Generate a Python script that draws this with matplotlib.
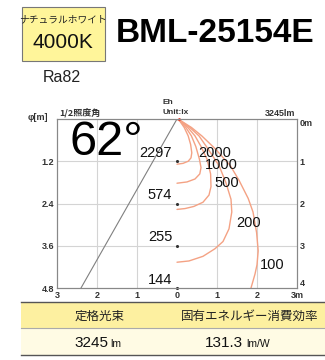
import matplotlib
matplotlib.use("Agg")
import matplotlib.pyplot as plt
from matplotlib.patches import Rectangle

plt.rcParams['font.family'] = ['Liberation Sans', 'Noto Sans CJK JP', 'DejaVu Sans']
JP = ['Noto Sans CJK JP', 'DejaVu Sans']

# --- data ---
model = "BML-25154E"
color_name = "ナチュラルホワイト"
color_temp = "4000K"
ra = "Ra82"
lumen = 3245
efficiency = 131.3
half_angle = 62  # 1/2照度角

depths = [1, 2, 3, 4]               # m
diam_labels = ["1.2", "2.4", "3.6", "4.8"]
center_lux = [2297, 574, 255, 144]
x_ticks = [-3, -2, -1, 0, 1, 2, 3]
x_labels = ["3", "2", "1", "0", "1", "2", "3m"]
r_ticks = [0, 1, 2, 3, 4]
r_labels = ["0m", "1", "2", "3", "4"]

# isolux curves (x [m], depth [m])
iso_levels = [2000, 1000, 500, 200, 100]
iso_x = [
    [0, 0.07, 0.18, 0.28, 0.34, 0.37, 0.35, 0.28, 0.15, 0],
    [0, 0.08, 0.22, 0.36, 0.47, 0.56, 0.6, 0.57, 0.45, 0.25, 0],
    [0, 0.09, 0.27, 0.45, 0.6, 0.75, 0.84, 0.85, 0.8, 0.65, 0.42, 0.2, 0],
    [0, 0.1, 0.32, 0.55, 0.77, 1.05, 1.22, 1.35, 1.37, 1.3, 1.15, 0.95, 0.65, 0.3, 0],
    [0, 0.11, 0.36, 0.62, 0.95, 1.33, 1.55, 1.78, 1.9, 1.99, 2.03, 2.0, 1.95, 1.85],
]
iso_d = [
    [0, 0.05, 0.2, 0.4, 0.6, 0.8, 0.92, 1.0, 1.05, 1.07],
    [0, 0.05, 0.2, 0.4, 0.65, 0.95, 1.15, 1.3, 1.42, 1.49, 1.52],
    [0, 0.05, 0.2, 0.4, 0.65, 0.95, 1.3, 1.6, 1.8, 1.97, 2.07, 2.12, 2.14],
    [0, 0.05, 0.2, 0.4, 0.7, 1.1, 1.5, 1.9, 2.2, 2.6, 2.9, 3.07, 3.25, 3.36, 3.39],
    [0, 0.05, 0.2, 0.4, 0.7, 1.1, 1.45, 1.88, 2.2, 2.69, 3.12, 3.45, 3.67, 4.0],
]
iso_label_pos = [(0.95, 0.8), (1.1, 1.1), (1.25, 1.52), (1.78, 2.45), (2.38, 3.45)]
beam_end = (-2.4, 4.0)

fig = plt.figure(figsize=(3.25, 3.6), dpi=100)

# --- header ---
fig.patches.append(Rectangle((22/325, 1-61/360), 83/325, 54/360, transform=fig.transFigure,
                             facecolor='#fff59a', edgecolor='#777777', lw=0.8))
fig.text(63/325, 1-19/360, color_name, family=JP, fontsize=7, ha='center', va='center', color='#222')
fig.text(63/325, 1-43/360, color_temp, fontsize=15, ha='center', va='center', color='#111')
fig.text(116/325, 1-34/360, model, fontsize=24, fontweight='bold', ha='left', va='center')
fig.text(62/325, 1-77/360, ra, fontsize=11.5, ha='center', va='center', color='#222')

# --- chart ---
ax = fig.add_axes([57/325, 1-288/360, 240/325, 169/360])
ax.set_xlim(-3, 3)
ax.set_ylim(4, 0)
for v in [-2, -1, 1, 2]:
    ax.axvline(v, color='#d4d4d4', lw=0.8, zorder=0)
for d in depths[:-1]:
    ax.axhline(d, color='#d4d4d4', lw=0.8, zorder=0)

ax.plot([0, beam_end[0]], [0, beam_end[1]], color='#808080', lw=0.8)
for xs, ds in zip(iso_x, iso_d):
    ax.plot(xs, ds, color='#f4a284', lw=1.0, solid_capstyle='round')
for lev, (lx, ly) in zip(iso_levels, iso_label_pos):
    ax.text(lx, ly, str(lev), fontsize=10.5, ha='center', va='center', color='#111')
for d, lux in zip(depths, center_lux):
    ax.text(-0.12, d - 0.2, str(lux), fontsize=10.5, ha='right', va='center', color='#111')
ax.scatter([0] * len(depths), depths, s=1.5, color='#333', zorder=3, clip_on=False)
ax.scatter([0.05], [0.0], s=4, color='#e83020', zorder=4, clip_on=False, linewidths=0)

ax.text(-2.7, 0.55, f"{half_angle}°", fontsize=35, ha='left', va='center')

ax.set_xticks(x_ticks)
ax.set_xticklabels(x_labels, fontsize=6.5, fontweight='bold', color='#333')
ax.set_yticks(depths)
ax.set_yticklabels(diam_labels, fontsize=6.5, fontweight='bold', color='#333')
ax.tick_params(length=0, pad=2)
ax2 = ax.twinx()
ax2.set_ylim(4, 0)
ax2.set_yticks(r_ticks)
ax2.set_yticklabels(r_labels, fontsize=6.5, fontweight='bold', color='#333')
ax2.tick_params(length=0, pad=2)
rl = ax2.get_yticklabels()
rl[0].set_va('top')
rl[-1].set_va('bottom')
for a in (ax, ax2):
    for s in a.spines.values():
        s.set_color('#888888')
        s.set_linewidth(0.8)

fig.text(28/325, 1-118/360, "φ[m]", fontsize=6.5, fontweight='bold', color='#333', ha='left', va='center')
fig.text(59/325, 1-113/360, "1/2照度角", family=JP, fontsize=6.5, fontweight='bold', color='#333', ha='left', va='center')
fig.text(163/325, 1-103/360, "Eh", fontsize=6, fontweight='bold', color='#333', ha='left', va='center')
fig.text(163/325, 1-113/360, "Unit:lx", fontsize=6, fontweight='bold', color='#333', ha='left', va='center')
fig.text(295/325, 1-113/360, f"{lumen}lm", fontsize=6.5, fontweight='bold', color='#333', ha='right', va='center')

# --- table ---
x0, x1 = 21/325, 1.0
fig.patches.append(Rectangle((x0, 1-328/360), x1-x0, 26/360, transform=fig.transFigure,
                             facecolor='#fdf0a0', edgecolor='none'))
fig.patches.append(Rectangle((x0, 1-355/360), x1-x0, 27/360, transform=fig.transFigure,
                             facecolor='#fffbe4', edgecolor='none'))
for yy, c, w in [(302, '#555', 1.0), (328, '#aaa', 0.8), (355, '#555', 1.0)]:
    fig.add_artist(plt.Line2D([x0, x1], [1-yy/360, 1-yy/360], transform=fig.transFigure, color=c, lw=w))
fig.text(100/325, 1-316/360, "定格光束", family=JP, fontsize=9, ha='center', va='center', color='#222')
fig.text(250/325, 1-316/360, "固有エネルギー消費効率", family=JP, fontsize=9, ha='center', va='center', color='#222')
fig.text(108/325, 1-343/360, f"{lumen}", fontsize=11, ha='right', va='center', color='#111')
fig.text(110/325, 1-344/360, "lm", fontsize=7.5, ha='left', va='center', color='#111')
fig.text(243/325, 1-343/360, f"{efficiency}", fontsize=11, ha='right', va='center', color='#111')
fig.text(246/325, 1-344/360, "lm/W", fontsize=7.5, ha='left', va='center', color='#111')

fig.savefig("out.png", dpi=100)
